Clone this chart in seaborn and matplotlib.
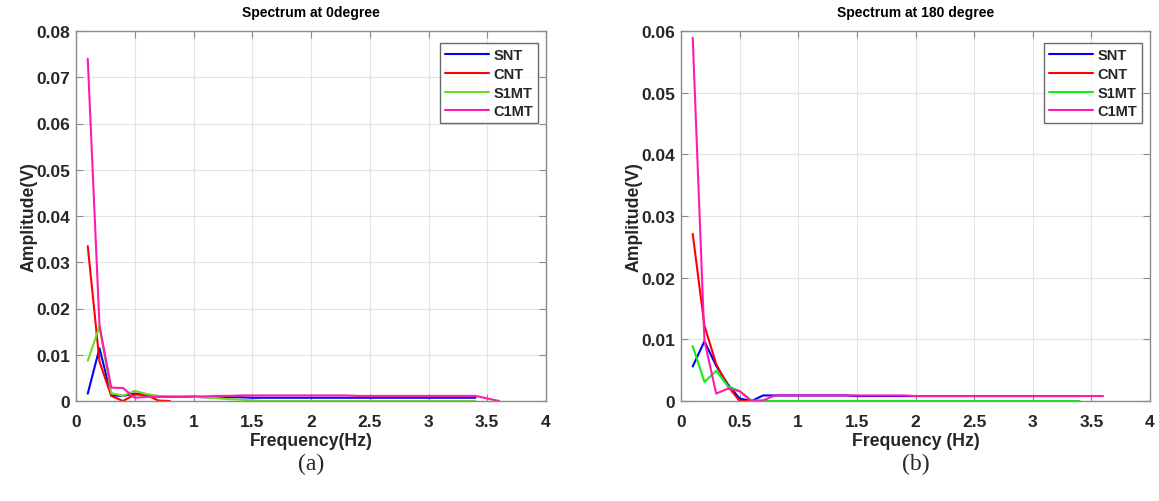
import numpy as np
import pandas as pd
import matplotlib
matplotlib.use("Agg")
import matplotlib.pyplot as plt
import seaborn as sns

# ---------------- data ----------------
freq34 = [0.1, 0.2, 0.3, 0.4, 0.5, 0.6, 0.7, 0.8, 0.9, 1.0,
          1.1, 1.2, 1.3, 1.4, 1.5, 1.6, 1.7, 1.8, 1.9, 2.0,
          2.1, 2.2, 2.3, 2.4, 2.5, 2.6, 2.7, 2.8, 2.9, 3.0,
          3.1, 3.2, 3.3, 3.4]
freq36 = freq34 + [3.5, 3.6]
freq8 = freq34[:8]

# Panel (a): Spectrum at 0 degree
a_snt = [0.0016, 0.0114, 0.0012, 0.0011, 0.0016, 0.0013, 0.0010, 0.0009, 0.0009, 0.0009,
         0.0008, 0.0008, 0.0008, 0.0008, 0.0007, 0.0007, 0.0007, 0.0007, 0.0007, 0.0007,
         0.0007, 0.0007, 0.0007, 0.0007, 0.0007, 0.0007, 0.0007, 0.0007, 0.0007, 0.0007,
         0.0007, 0.0007, 0.0007, 0.0007]
a_cnt = [0.0335, 0.0085, 0.0011, 0.0000, 0.0014, 0.0013, 0.0001, 0.0000]
a_s1mt = [0.0087, 0.0161, 0.0017, 0.0011, 0.0022, 0.0015, 0.0011, 0.0010, 0.0010, 0.0009,
          0.0008, 0.0006, 0.0004, 0.0003, 0.0001, 0.0000, 0.0000, 0.0000, 0.0000, 0.0000,
          0.0000, 0.0000, 0.0000, 0.0000, 0.0000, 0.0000, 0.0000, 0.0000, 0.0000, 0.0000,
          0.0000, 0.0000, 0.0000, 0.0000]
a_c1mt = [0.0740, 0.0163, 0.0029, 0.0028, 0.0007, 0.0009, 0.0009, 0.0009, 0.0009, 0.0010,
          0.0010, 0.0011, 0.0011, 0.0012, 0.0012, 0.0012, 0.0012, 0.0012, 0.0012, 0.0012,
          0.0012, 0.0012, 0.0012, 0.0011, 0.0011, 0.0011, 0.0011, 0.0011, 0.0011, 0.0011,
          0.0011, 0.0011, 0.0011, 0.0011, 0.00055, 0.0000]

# Panel (b): Spectrum at 180 degree
b_snt = [0.0056, 0.0097, 0.0057, 0.0027, 0.0004, 0.0000, 0.0009, 0.0009, 0.0009, 0.0009,
         0.0009, 0.0009, 0.0009, 0.0009, 0.0008, 0.0008, 0.0008, 0.0008, 0.0008, 0.0008,
         0.0008, 0.0008, 0.0008, 0.0008, 0.0008, 0.0008, 0.0008, 0.0008, 0.0008, 0.0008,
         0.0008, 0.0008, 0.0008, 0.0008]
b_cnt = [0.0271, 0.0122, 0.0060, 0.0024, 0.0000, 0.0000, 0.0000, 0.0000]
b_s1mt = [0.0089, 0.0031, 0.0049, 0.0024, 0.0016, 0.0001, 0.0000, 0.0000, 0.0000, 0.0000,
          0.0000, 0.0000, 0.0000, 0.0000, 0.0000, 0.0000, 0.0000, 0.0000, 0.0000, 0.0000,
          0.0000, 0.0000, 0.0000, 0.0000, 0.0000, 0.0000, 0.0000, 0.0000, 0.0000, 0.0000,
          0.0000, 0.0000, 0.0000, 0.0000]
b_c1mt = [0.0589, 0.0098, 0.0012, 0.0020, 0.0016, 0.0000, 0.0001, 0.0009, 0.0009, 0.0009,
          0.0009, 0.0009, 0.0009, 0.0009, 0.0009, 0.0009, 0.0009, 0.0009, 0.0009, 0.0008,
          0.0008, 0.0008, 0.0008, 0.0008, 0.0008, 0.0008, 0.0008, 0.0008, 0.0008, 0.0008,
          0.0008, 0.0008, 0.0008, 0.0008, 0.0008, 0.0008]

series_names = ["SNT", "CNT", "S1MT", "C1MT"]
titles = ["Spectrum at 0degree", "Spectrum at 180 degree"]
xlabels = ["Frequency(Hz)", "Frequency (Hz)"]
ylabel = "Amplitude(V)"
captions = ["(a)", "(b)"]
xticks = [0, 0.5, 1, 1.5, 2, 2.5, 3, 3.5, 4]
xtick_labels = ["0", "0.5", "1", "1.5", "2", "2.5", "3", "3.5", "4"]
yticks_a = [0, 0.01, 0.02, 0.03, 0.04, 0.05, 0.06, 0.07, 0.08]
yticks_b = [0, 0.01, 0.02, 0.03, 0.04, 0.05, 0.06]

# ---------------- style ----------------
sns.set_theme(style="white")
plt.rcParams["font.family"] = ["Liberation Sans", "DejaVu Sans"]

palettes = [
    {"SNT": "#0000FF", "CNT": "#FF0000", "S1MT": "#66DD22", "C1MT": "#FF1AAE"},
    {"SNT": "#0000FF", "CNT": "#FF0000", "S1MT": "#11EE11", "C1MT": "#FF1AAE"},
]

def build_df(snt, cnt, s1mt, c1mt):
    parts = []
    for name, xs, ys in [("SNT", freq34, snt), ("CNT", freq8, cnt),
                         ("S1MT", freq34, s1mt), ("C1MT", freq36, c1mt)]:
        parts.append(pd.DataFrame({"Frequency": xs, "Amplitude": ys, "Series": name}))
    return pd.concat(parts, ignore_index=True)

dfs = [build_df(a_snt, a_cnt, a_s1mt, a_c1mt), build_df(b_snt, b_cnt, b_s1mt, b_c1mt)]
ytick_sets = [yticks_a, yticks_b]
ylims = [0.08, 0.06]

fig = plt.figure(figsize=(11.59, 5.02), dpi=100)
ax_rects = [[76 / 1159, 100 / 502, 470 / 1159, 370 / 502],
            [681 / 1159, 100 / 502, 469 / 1159, 370 / 502]]

for i in range(2):
    ax = fig.add_axes(ax_rects[i])
    sns.lineplot(data=dfs[i], x="Frequency", y="Amplitude", hue="Series",
                 hue_order=series_names, palette=palettes[i], estimator=None,
                 sort=False, linewidth=1.5, ax=ax, legend=False)
    ax.set_xlim(0, 4)
    ax.set_ylim(0, ylims[i])
    ax.set_xticks(xticks)
    ax.set_xticklabels(xtick_labels)
    ax.set_yticks(ytick_sets[i])
    ax.set_yticklabels([("0" if v == 0 else f"{v:.2f}") for v in ytick_sets[i]])
    ax.grid(True, color="#E3E3E3", linewidth=0.8)
    ax.set_axisbelow(True)
    for sp in ax.spines.values():
        sp.set_color("#8C8C8C")
        sp.set_linewidth(1.0)
    ax.tick_params(axis="both", direction="in", length=5, width=0.8, color="#8C8C8C",
                   top=True, right=True, bottom=True, left=True, labelsize=12.5,
                   labelcolor="#262626")
    ax.tick_params(axis="x", pad=9.5)
    ax.tick_params(axis="y", pad=4)
    for lab in ax.get_xticklabels() + ax.get_yticklabels():
        lab.set_fontweight("bold")
    ax.set_title(titles[i], fontsize=10, fontweight="bold", pad=11, color="black")
    ax.set_xlabel(xlabels[i], fontsize=12.7, fontweight="bold", labelpad=2, color="#262626")
    ax.set_ylabel(ylabel, fontsize=12.7, fontweight="bold", labelpad=-1, color="#262626")

    handles = [plt.Line2D([0], [0], color=palettes[i][n], lw=1.5) for n in series_names]
    leg = ax.legend(handles, series_names, loc="upper right", bbox_to_anchor=(0.99, 0.975),
                    frameon=True, fancybox=False, handlelength=3.0, handletextpad=0.3,
                    labelspacing=0.32, borderpad=0.35, borderaxespad=0.2,
                    prop={"weight": "bold", "size": 10.5})
    leg.get_frame().set_edgecolor("#444444")
    leg.get_frame().set_linewidth(1.0)

    cx = (ax_rects[i][0] + ax_rects[i][2] / 2)
    fig.text(cx, 0.075, captions[i], ha="center", va="center", fontsize=17,
             family=["Liberation Serif", "DejaVu Serif"])

fig.savefig("out.png", dpi=100)
